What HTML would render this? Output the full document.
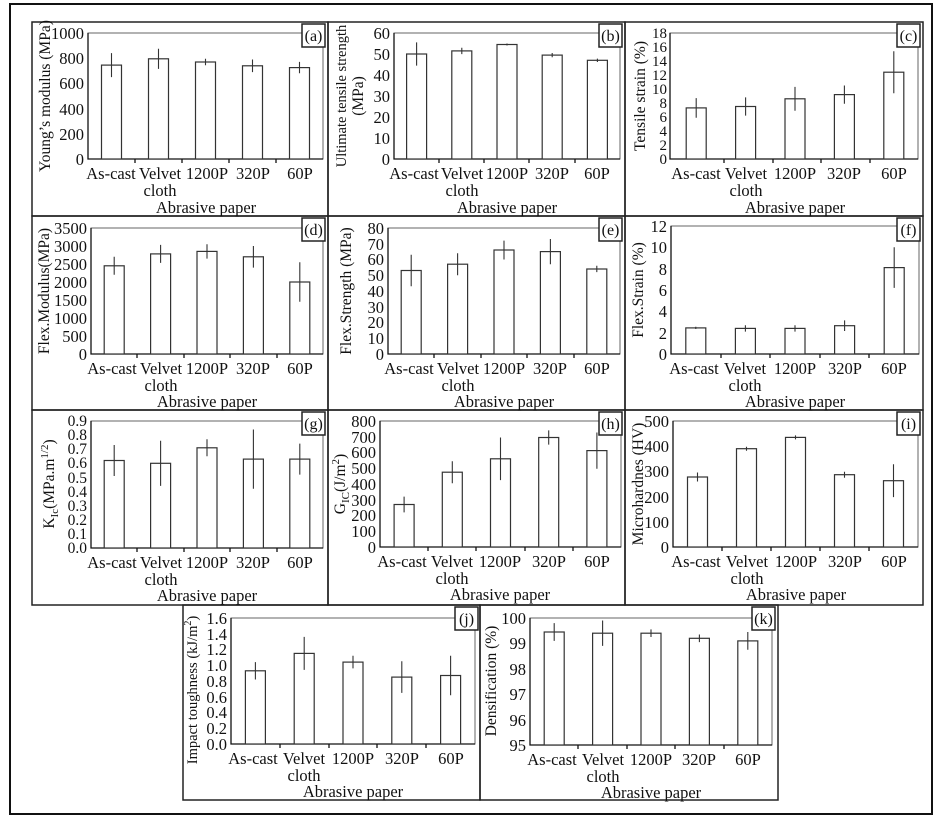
<!DOCTYPE html><html><head><style>body{margin:0;background:#fff}svg{display:block}text{font-family:"Liberation Serif","Times New Roman",Times,serif;fill:#111}</style></head><body>
<svg width="942" height="818" xmlns="http://www.w3.org/2000/svg" font-size="16.5" font-family="Liberation Serif, Times New Roman, serif">
<rect x="10" y="4" width="922" height="810" fill="none" stroke="#111" stroke-width="2"/>
<g fill="none" stroke="#222" stroke-width="1.5">
<rect x="32" y="22" width="296" height="194"/><rect x="328" y="22" width="297" height="194"/><rect x="625" y="22" width="298" height="194"/>
<rect x="32" y="216" width="296" height="194"/><rect x="328" y="216" width="297" height="194"/><rect x="625" y="216" width="298" height="194"/>
<rect x="32" y="410" width="296" height="195"/><rect x="328" y="410" width="297" height="195"/><rect x="625" y="410" width="298" height="195"/>
<rect x="183" y="605" width="297" height="195"/><rect x="480" y="605" width="298" height="195"/>
</g>
<g fill="none" stroke="#666" stroke-width="1">
<rect x="88" y="33" width="235" height="126"/><rect x="394" y="33" width="226" height="126"/><rect x="670" y="33" width="248" height="126"/>
<rect x="91" y="228" width="232" height="126"/><rect x="388" y="228" width="232" height="126"/><rect x="671" y="226" width="248" height="128"/>
<rect x="91" y="421" width="232" height="127"/><rect x="380" y="421" width="241" height="126"/><rect x="673" y="421" width="245" height="126"/>
<rect x="231" y="618" width="244" height="126"/><rect x="530" y="618" width="242" height="127"/>
</g>
<g fill="#fff" stroke="#222" stroke-width="1.5">
<rect x="302" y="24" width="23" height="23"/><rect x="599" y="24" width="23" height="23"/><rect x="897" y="24" width="23" height="23"/>
<rect x="302" y="218" width="23" height="23"/><rect x="599" y="218" width="23" height="23"/><rect x="897" y="218" width="23" height="23"/>
<rect x="302" y="412" width="23" height="23"/><rect x="599" y="412" width="23" height="23"/><rect x="897" y="412" width="23" height="23"/>
<rect x="455" y="607" width="23" height="23"/><rect x="752" y="607" width="23" height="23"/>
</g>
<g font-size="16" text-anchor="middle">
<text x="313.5" y="41">(a)</text><text x="610.5" y="41">(b)</text><text x="908.5" y="41">(c)</text>
<text x="313.5" y="235">(d)</text><text x="610.5" y="235">(e)</text><text x="908.5" y="235">(f)</text>
<text x="313.5" y="429">(g)</text><text x="610.5" y="429">(h)</text><text x="908.5" y="429">(i)</text>
<text x="466.5" y="624">(j)</text><text x="763.5" y="624">(k)</text>
</g>
<g stroke="#111" stroke-width="1.3" fill="none">
<path d="M88 33V159H323M394 33V159H620M670 33V159H918M91 228V354H323M388 228V354H620M671 226V354H919M91 421V548H323M380 421V547H621M673 421V547H918M231 618V744H475M530 618V745H772"/>
<path d="M135 159v4M182 159v4M229 159v4M276 159v4M439 159v4M484 159v4M529 159v4M575 159v4M724 159v4M773 159v4M821 159v4M870 159v4M137 354v4M184 354v4M230 354v4M277 354v4M434 354v4M481 354v4M527 354v4M574 354v4M721 354v4M770 354v4M820 354v4M869 354v4M137 548v4M184 548v4M230 548v4M277 548v4M428 547v4M476 547v4M525 547v4M573 547v4M722 547v4M771 547v4M820 547v4M869 547v4M280 744v4M329 744v4M377 744v4M426 744v4M578 745v4M627 745v4M675 745v4M724 745v4"/>
</g>
<g fill="#fff" stroke="#333" stroke-width="1.2">
<rect x="101.5" y="65.1" width="20" height="93.9"/><rect x="148.5" y="58.8" width="20" height="100.2"/><rect x="195.5" y="62" width="20" height="97"/><rect x="242.5" y="65.8" width="20" height="93.2"/><rect x="289.5" y="67.6" width="20" height="91.4"/>
<rect x="406.6" y="54" width="20" height="105"/><rect x="451.8" y="50.9" width="20" height="108.1"/><rect x="497" y="44.5" width="20" height="114.5"/><rect x="542.2" y="55.1" width="20" height="103.9"/><rect x="587.4" y="60.3" width="20" height="98.7"/>
<rect x="686.2" y="107.9" width="20" height="51.1"/><rect x="735.6" y="106.5" width="20" height="52.5"/><rect x="785" y="98.8" width="20" height="60.2"/><rect x="834.4" y="94.6" width="20" height="64.4"/><rect x="883.8" y="72.2" width="20" height="86.8"/>
<rect x="104.2" y="265.8" width="20" height="88.2"/><rect x="150.6" y="253.9" width="20" height="100.1"/><rect x="197" y="251.4" width="20" height="102.6"/><rect x="243.4" y="256.8" width="20" height="97.2"/><rect x="289.8" y="282" width="20" height="72"/>
<rect x="401.2" y="270.5" width="20" height="83.5"/><rect x="447.6" y="264.2" width="20" height="89.8"/><rect x="494" y="250" width="20" height="104"/><rect x="540.4" y="251.6" width="20" height="102.4"/><rect x="586.8" y="269" width="20" height="85"/>
<rect x="685.8" y="327.9" width="20" height="26.1"/><rect x="735.4" y="328.4" width="20" height="25.6"/><rect x="785" y="328.4" width="20" height="25.6"/><rect x="834.6" y="325.7" width="20" height="28.3"/><rect x="884.2" y="267.6" width="20" height="86.4"/>
<rect x="104.2" y="460.5" width="20" height="87.5"/><rect x="150.6" y="463.3" width="20" height="84.7"/><rect x="197" y="447.8" width="20" height="100.2"/><rect x="243.4" y="459.1" width="20" height="88.9"/><rect x="289.8" y="459.1" width="20" height="88.9"/>
<rect x="394.1" y="504.5" width="20" height="42.5"/><rect x="442.3" y="472.2" width="20" height="74.8"/><rect x="490.5" y="458.8" width="20" height="88.2"/><rect x="538.7" y="437.5" width="20" height="109.5"/><rect x="586.9" y="450.6" width="20" height="96.4"/>
<rect x="687.5" y="477" width="20" height="70"/><rect x="736.5" y="448.7" width="20" height="98.3"/><rect x="785.5" y="437.4" width="20" height="109.6"/><rect x="834.5" y="474.7" width="20" height="72.3"/><rect x="883.5" y="480.7" width="20" height="66.3"/>
<rect x="245.4" y="670.8" width="20" height="73.2"/><rect x="294.2" y="653.4" width="20" height="90.6"/><rect x="343" y="662.1" width="20" height="81.9"/><rect x="391.8" y="677.1" width="20" height="66.9"/><rect x="440.6" y="675.5" width="20" height="68.5"/>
<rect x="544.2" y="632" width="20" height="113"/><rect x="592.6" y="633.2" width="20" height="111.8"/><rect x="641" y="633.2" width="20" height="111.8"/><rect x="689.4" y="638.3" width="20" height="106.7"/><rect x="737.8" y="640.9" width="20" height="104.1"/>
</g>
<g stroke="#333" stroke-width="1.1" fill="none">
<path d="M111.5 53.1V77.1M158.5 48.7V68.9M205.5 58.8V65.2M252.5 59.5V72.1M299.5 61.9V73.3"/>
<path d="M416.6 42.4V65.6M461.8 47.7V54.1M507 43.5V45.5M552.2 53V57.2M597.4 58.6V62"/>
<path d="M696.2 98.1V117.7M745.6 97.4V115.6M795 86.9V110.7M844.4 85.5V103.7M893.8 51.2V93.2"/>
<path d="M114.2 256.8V274.8M160.6 244.9V262.9M207 244.2V258.6M253.4 246V267.6M299.8 262.2V301.8"/>
<path d="M411.2 254.8V286.3M457.6 253.2V275.2M504 240.6V259.5M550.4 239V264.2M596.8 265.8V272.1"/>
<path d="M695.8 326.8V329M745.4 325.2V331.6M795 325.2V331.6M844.6 320.4V331M894.2 247.3V287.9"/>
<path d="M114.2 445V476M160.6 440.7V485.9M207 439.3V456.3M253.4 429.5V488.7M299.8 443.6V474.6"/>
<path d="M404.1 496.6V512.4M452.3 461.2V483.2M500.5 437.5V480.1M548.7 430.4V444.6M596.9 432.5V468.7"/>
<path d="M697.5 472.5V481.5M746.5 446.7V450.7M795.5 435.4V439.4M844.5 471.7V477.7M893.5 464.3V497.1"/>
<path d="M255.4 662.1V679.5M304.2 636.9V669.9M353 655.8V668.4M401.8 661.3V692.9M450.6 655.8V695.2"/>
<path d="M554.2 623.1V640.9M602.6 620.5V645.9M651 629.4V637M699.4 634.5V642.1M747.8 632V649.8"/>
</g>
<g text-anchor="end">
<text x="84" y="165">0</text><text x="84" y="140">200</text><text x="84" y="115">400</text><text x="84" y="89">600</text><text x="84" y="64">800</text><text x="84" y="39">1000</text>
<text x="390" y="165">0</text><text x="390" y="144">10</text><text x="390" y="123">20</text><text x="390" y="102">30</text><text x="390" y="81">40</text><text x="390" y="60">50</text><text x="390" y="39">60</text>
<g font-size="15"><text x="667" y="164">0</text><text x="667" y="150">2</text><text x="667" y="136">4</text><text x="667" y="122">6</text><text x="667" y="108">8</text><text x="667" y="94">10</text><text x="667" y="80">12</text><text x="667" y="66">14</text><text x="667" y="52">16</text><text x="667" y="38">18</text></g>
<text x="87" y="360">0</text><text x="87" y="342">500</text><text x="87" y="324">1000</text><text x="87" y="306">1500</text><text x="87" y="288">2000</text><text x="87" y="270">2500</text><text x="87" y="252">3000</text><text x="87" y="234">3500</text>
<text x="384" y="360">0</text><text x="384" y="344">10</text><text x="384" y="328">20</text><text x="384" y="313">30</text><text x="384" y="297">40</text><text x="384" y="281">50</text><text x="384" y="265">60</text><text x="384" y="250">70</text><text x="384" y="234">80</text>
<text x="667" y="360">0</text><text x="667" y="339">2</text><text x="667" y="317">4</text><text x="667" y="296">6</text><text x="667" y="275">8</text><text x="667" y="253">10</text><text x="667" y="232">12</text>
<g font-size="15.5"><text x="87" y="553">0.0</text><text x="87" y="539">0.1</text><text x="87" y="525">0.2</text><text x="87" y="511">0.3</text><text x="87" y="497">0.4</text><text x="87" y="483">0.5</text><text x="87" y="468">0.6</text><text x="87" y="454">0.7</text><text x="87" y="440">0.8</text><text x="87" y="426">0.9</text></g>
<text x="376" y="553">0</text><text x="376" y="537">100</text><text x="376" y="521">200</text><text x="376" y="506">300</text><text x="376" y="490">400</text><text x="376" y="474">500</text><text x="376" y="458">600</text><text x="376" y="443">700</text><text x="376" y="427">800</text>
<text x="669" y="553">0</text><text x="669" y="528">100</text><text x="669" y="503">200</text><text x="669" y="477">300</text><text x="669" y="452">400</text><text x="669" y="427">500</text>
<text x="227" y="750">0.0</text><text x="227" y="734">0.2</text><text x="227" y="718">0.4</text><text x="227" y="703">0.6</text><text x="227" y="687">0.8</text><text x="227" y="671">1.0</text><text x="227" y="655">1.2</text><text x="227" y="640">1.4</text><text x="227" y="624">1.6</text>
<text x="526" y="751">95</text><text x="526" y="726">96</text><text x="526" y="700">97</text><text x="526" y="675">98</text><text x="526" y="649">99</text><text x="526" y="624">100</text>
</g>
<g text-anchor="middle">
<text x="111" y="179">As-cast</text><text x="160" y="179">Velvet</text><text x="160" y="196">cloth</text><text x="207" y="179">1200P</text><text x="253" y="179">320P</text><text x="300" y="179">60P</text><text x="206" y="213">Abrasive paper</text>
<text x="414" y="179">As-cast</text><text x="462" y="179">Velvet</text><text x="462" y="196">cloth</text><text x="507" y="179">1200P</text><text x="552" y="179">320P</text><text x="597" y="179">60P</text><text x="507" y="213">Abrasive paper</text>
<text x="696" y="179">As-cast</text><text x="746" y="179">Velvet</text><text x="746" y="196">cloth</text><text x="795" y="179">1200P</text><text x="844" y="179">320P</text><text x="894" y="179">60P</text><text x="795" y="213">Abrasive paper</text>
<text x="112" y="374">As-cast</text><text x="161" y="374">Velvet</text><text x="161" y="391">cloth</text><text x="207" y="374">1200P</text><text x="253" y="374">320P</text><text x="300" y="374">60P</text><text x="207" y="407">Abrasive paper</text>
<text x="409" y="374">As-cast</text><text x="458" y="374">Velvet</text><text x="458" y="391">cloth</text><text x="504" y="374">1200P</text><text x="550" y="374">320P</text><text x="597" y="374">60P</text><text x="504" y="407">Abrasive paper</text>
<text x="694" y="374">As-cast</text><text x="745" y="374">Velvet</text><text x="745" y="391">cloth</text><text x="795" y="374">1200P</text><text x="845" y="374">320P</text><text x="894" y="374">60P</text><text x="795" y="407">Abrasive paper</text>
<text x="112" y="568">As-cast</text><text x="161" y="568">Velvet</text><text x="161" y="585">cloth</text><text x="207" y="568">1200P</text><text x="253" y="568">320P</text><text x="300" y="568">60P</text><text x="207" y="601">Abrasive paper</text>
<text x="402" y="567">As-cast</text><text x="452" y="567">Velvet</text><text x="452" y="584">cloth</text><text x="500" y="567">1200P</text><text x="549" y="567">320P</text><text x="597" y="567">60P</text><text x="500" y="600">Abrasive paper</text>
<text x="696" y="567">As-cast</text><text x="747" y="567">Velvet</text><text x="747" y="584">cloth</text><text x="796" y="567">1200P</text><text x="845" y="567">320P</text><text x="894" y="567">60P</text><text x="796" y="600">Abrasive paper</text>
<text x="253" y="764">As-cast</text><text x="304" y="764">Velvet</text><text x="304" y="781">cloth</text><text x="353" y="764">1200P</text><text x="402" y="764">320P</text><text x="451" y="764">60P</text><text x="353" y="797">Abrasive paper</text>
<text x="552" y="765">As-cast</text><text x="603" y="765">Velvet</text><text x="603" y="782">cloth</text><text x="651" y="765">1200P</text><text x="699" y="765">320P</text><text x="748" y="765">60P</text><text x="651" y="798">Abrasive paper</text>
</g>
<g text-anchor="middle" font-size="15.5">
<text transform="translate(50,96) rotate(-90)">Young’s modulus (MPa)</text>
<text transform="translate(346,96) rotate(-90)" font-size="14.5">Ultimate tensile strength</text>
<text transform="translate(363,96) rotate(-90)">(MPa)</text>
<text transform="translate(645,96) rotate(-90)">Tensile strain (%)</text>
<text transform="translate(49,291) rotate(-90)">Flex.Modulus(MPa)</text>
<text transform="translate(351,291) rotate(-90)">Flex.Strength (MPa)</text>
<text transform="translate(643,290) rotate(-90)">Flex.Strain (%)</text>
<text transform="translate(54,484) rotate(-90)">K<tspan font-size="11" dy="4">Ic</tspan><tspan dy="-4">(MPa.m</tspan><tspan font-size="11" dy="-6">1/2</tspan><tspan dy="6">)</tspan></text>
<text transform="translate(345,484) rotate(-90)">G<tspan font-size="11" dy="4">IC</tspan><tspan dy="-4">(J/m</tspan><tspan font-size="11" dy="-6">2</tspan><tspan dy="6">)</tspan></text>
<text transform="translate(643,484) rotate(-90)">Microhardnes (HV)</text>
<text transform="translate(197,690) rotate(-90)" font-size="14.5">Impact toughness (kJ/m<tspan font-size="10" dy="-6">2</tspan><tspan dy="6">)</tspan></text>
<text transform="translate(496,681) rotate(-90)">Densification (%)</text>
</g>
</svg>
</body></html>
